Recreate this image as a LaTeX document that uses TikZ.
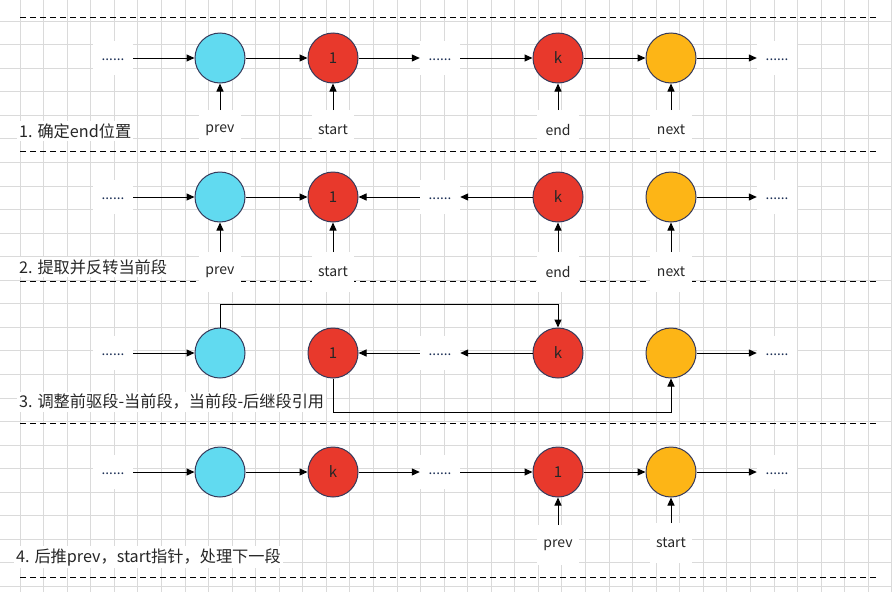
\documentclass[tikz,border=0pt]{standalone}
\usepackage{fontspec}
\setmainfont{Noto Sans CJK SC}
\usepackage{xcolor}
\usepackage{tikz}
\usetikzlibrary{arrows.meta,positioning}

\definecolor{nodecyan}{HTML}{61DAF0}
\definecolor{nodered}{HTML}{E8392C}
\definecolor{nodeorange}{HTML}{FDB516}
\definecolor{rimcol}{HTML}{36395A}
\definecolor{dotcol}{HTML}{1C2F55}
\definecolor{gridcol}{HTML}{DADADA}

\newcommand{\lowdots}{\raisebox{-5pt}{......}}

\begin{document}
\begin{tikzpicture}[
    x=1pt, y=-1pt,
    elem/.style={circle, draw=rimcol, line width=1pt, minimum size=50pt, inner sep=0pt,
                 font=\fontsize{15}{18}\selectfont, text=black!85},
    dots/.style={fill=white, minimum width=40pt, minimum height=34pt, inner sep=0pt,
                 font=\fontsize{13.5}{15}\selectfont, text=dotcol},
    ptr/.style={fill=white, minimum width=42pt, minimum height=40pt, inner sep=0pt,
                font=\fontsize{14}{16}\selectfont, text=black!85},
    steplabel/.style={fill=white, anchor=west, inner sep=2pt,
                      font=\fontsize{16.2}{19}\selectfont, text=black!85},
    arrow/.style={-{Triangle[length=8pt,width=7pt]}, line width=1pt},
    sep/.style={dash pattern=on 6pt off 4pt, line width=1pt},
]
\useasboundingbox (0,0) rectangle (892,592);

% ── Background grid ──
\fill[white] (0,0) rectangle (892,592);
\foreach \i in {0,...,38} \draw[gridcol, line width=0.8pt] (-3.56+23.56*\i,0) -- (-3.56+23.56*\i,592);
\foreach \j in {0,...,24} \draw[gridcol, line width=0.8pt] (0,21+23.56*\j) -- (892,21+23.56*\j);

% ── Separators ──
\draw[sep] (20,17) -- (878,17);
\draw[sep] (20,151) -- (878,151);
\draw[sep] (20,281) -- (878,281);
\draw[sep] (20,423) -- (878,423);
\draw[sep] (20,577) -- (878,577);

% ── Row 1: locate end ──
\node[dots] (r1dl) at (113,58) {\lowdots};
\node[elem, fill=nodecyan] (r1p) at (220,58) {};
\node[elem, fill=nodered] (r1s) at (333,58) {1};
\node[dots] (r1dm) at (440,58) {\lowdots};
\node[elem, fill=nodered] (r1e) at (558,58) {k};
\node[elem, fill=nodeorange] (r1n) at (671,58) {};
\node[dots] (r1dr) at (777,58) {\lowdots};
\node[ptr, anchor=north] (r1lp) at (220,110) {prev};
\node[ptr, anchor=north] (r1ls) at (333,110) {start};
\node[ptr, anchor=north] (r1le) at (558,110) {end};
\node[ptr, anchor=north] (r1ln) at (671,110) {next};
\node[steplabel] (r1t) at (17,131) {1. 确定end位置};

\draw[arrow] (r1dl) -- (r1p);
\draw[arrow] (r1p) -- (r1s);
\draw[arrow] (r1s) -- (r1dm);
\draw[arrow] (r1dm) -- (r1e);
\draw[arrow] (r1e) -- (r1n);
\draw[arrow] (r1n) -- (r1dr);
\draw[arrow] (r1lp) -- (r1p);
\draw[arrow] (r1ls) -- (r1s);
\draw[arrow] (r1le) -- (r1e);
\draw[arrow] (r1ln) -- (r1n);

% ── Row 2: reverse segment ──
\node[dots] (r2dl) at (113,197) {\lowdots};
\node[elem, fill=nodecyan] (r2p) at (220,197) {};
\node[elem, fill=nodered] (r2s) at (333,197) {1};
\node[dots] (r2dm) at (440,197) {\lowdots};
\node[elem, fill=nodered] (r2e) at (558,197) {k};
\node[elem, fill=nodeorange] (r2n) at (671,197) {};
\node[dots] (r2dr) at (777,197) {\lowdots};
\node[ptr, anchor=north] (r2lp) at (220,252) {prev};
\node[ptr, anchor=north] (r2ls) at (333,252) {start};
\node[ptr, anchor=north] (r2le) at (558,252) {end};
\node[ptr, anchor=north] (r2ln) at (671,252) {next};
\node[steplabel] (r2t) at (17,267) {2. 提取并反转当前段};

\draw[arrow] (r2dl) -- (r2p);
\draw[arrow] (r2p) -- (r2s);
\draw[arrow] (r2dm) -- (r2s);
\draw[arrow] (r2e) -- (r2dm);
\draw[arrow] (r2n) -- (r2dr);
\draw[arrow] (r2lp) -- (r2p);
\draw[arrow] (r2ls) -- (r2s);
\draw[arrow] (r2le) -- (r2e);
\draw[arrow] (r2ln) -- (r2n);

% ── Row 3: relink ──
\node[dots] (r3dl) at (113,353) {\lowdots};
\node[elem, fill=nodecyan] (r3p) at (220,353) {};
\node[elem, fill=nodered] (r3s) at (333,353) {1};
\node[dots] (r3dm) at (440,353) {\lowdots};
\node[elem, fill=nodered] (r3e) at (558,353) {k};
\node[elem, fill=nodeorange] (r3n) at (671,353) {};
\node[dots] (r3dr) at (777,353) {\lowdots};
\node[steplabel] (r3t) at (17,402) {3. 调整前驱段-当前段，当前段-后继段引用};

\draw[arrow] (r3dl) -- (r3p);
\draw[arrow] (r3dm) -- (r3s);
\draw[arrow] (r3e) -- (r3dm);
\draw[arrow] (r3n) -- (r3dr);
\draw[arrow] (r3p.north) -- ++(0,-23) -| (r3e.north);
\draw[arrow] (r3s.south) -- ++(0,34) -| (r3n.south);

% ── Row 4: advance pointers ──
\node[dots] (r4dl) at (113,472) {\lowdots};
\node[elem, fill=nodecyan] (r4p) at (220,472) {};
\node[elem, fill=nodered] (r4e) at (333,472) {k};
\node[dots] (r4dm) at (440,472) {\lowdots};
\node[elem, fill=nodered] (r4s) at (558,472) {1};
\node[elem, fill=nodeorange] (r4n) at (671,472) {};
\node[dots] (r4dr) at (777,472) {\lowdots};
\node[ptr, anchor=north] (r4lp) at (558,525) {prev};
\node[ptr, anchor=north] (r4ls) at (671,523) {start};
\node[steplabel] (r4t) at (14,557) {4. 后推prev，start指针，处理下一段};

\draw[arrow] (r4dl) -- (r4p);
\draw[arrow] (r4p) -- (r4e);
\draw[arrow] (r4e) -- (r4dm);
\draw[arrow] (r4dm) -- (r4s);
\draw[arrow] (r4s) -- (r4n);
\draw[arrow] (r4n) -- (r4dr);
\draw[arrow] (r4lp) -- (r4s);
\draw[arrow] (r4ls) -- (r4n);

\end{tikzpicture}
\end{document}
